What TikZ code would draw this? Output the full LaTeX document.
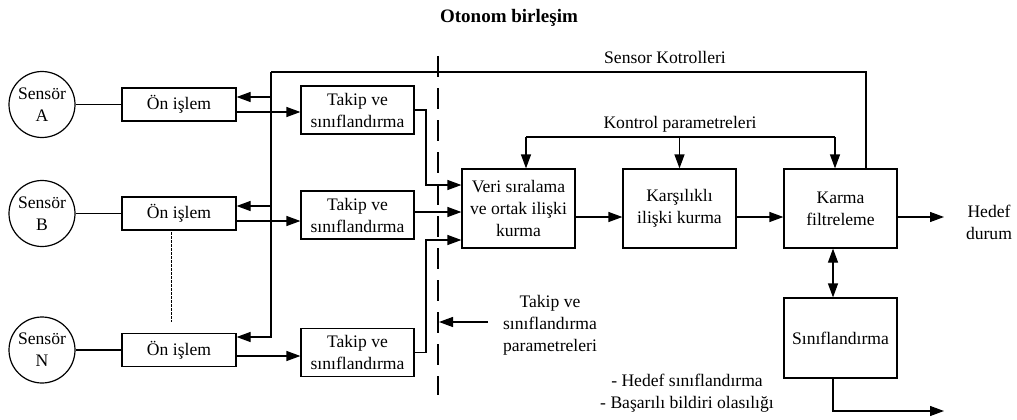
\documentclass[tikz,border=0pt]{standalone}
\usepackage{fontspec}
\setmainfont{Liberation Serif}
\usetikzlibrary{arrows.meta}
\begin{document}
\begin{tikzpicture}[x=1pt,y=-1pt,
  every node/.style={font=\fontsize{17.6}{22}\selectfont, align=center},
  ln/.style={line width=1.2pt},
  arr/.style={ln, -{Triangle[length=14pt,width=10pt]}},
  biarr/.style={ln, {Triangle[length=14pt,width=10pt]}-{Triangle[length=14pt,width=10pt]}},
  sensor/.style={draw, ln, circle, minimum size=66pt, inner sep=0pt},
  box/.style={draw, ln, inner sep=0pt, minimum width=113pt},
  onbox/.style={box, minimum width=114pt, minimum height=33pt},
  tbox/.style={box, minimum height=48pt},
  bigbox/.style={box, minimum height=79pt},
]
\useasboundingbox (0,0) rectangle (1017,420);

% title and free labels
\node[font=\fontsize{19}{23}\selectfont\bfseries] (title) at (509,18) {Otonom birleşim};
\node (sk) at (665,57) {Sensor Kotrolleri};
\node (kp) at (680,124) {Kontrol parametreleri};
\node (tp) at (550,325) {Takip ve\\sınıflandırma\\parametreleri};
\node (hedef) at (989,222) {Hedef\\durum};
\node (note) at (687,393) {- Hedef sınıflandırma\\- Başarılı bildiri olasılığı};

% sensors and preprocessing
\node[sensor] (sA) at (42,104.5) {Sensör\\A};
\node[sensor] (sB) at (42,213.5) {Sensör\\B};
\node[sensor] (sN) at (42,350) {Sensör\\N};
\node[onbox] (oA) at (179,104.5) {Ön işlem};
\node[onbox] (oB) at (179,213.5) {Ön işlem};
\node[onbox] (oN) at (179,350) {Ön işlem};

% tracking boxes
\node[tbox] (tA) at (357.5,110) {Takip ve\\sınıflandırma};
\node[tbox] (tB) at (357.5,215) {Takip ve\\sınıflandırma};
\node[tbox] (tN) at (357.5,352.5) {Takip ve\\sınıflandırma};

% fusion chain
\node[bigbox] (veri) at (518.5,208.5) {Veri sıralama\\ve ortak ilişki\\kurma};
\node[bigbox] (kars) at (679.5,208.5) {Karşılıklı\\ilişki kurma};
\node[bigbox] (karma) at (840.5,208.5) {Karma\\filtreleme};
\node[box, minimum height=80pt] (sinif) at (840.5,338) {Sınıflandırma};

% sensor to preprocessing
\draw[ln] (sA) -- (oA);
\draw[ln] (sB) -- (oB);
\draw[ln] (sN) -- (oN);
\coordinate (dotT) at (171,232);
\coordinate (dotB) at (171,322);
\draw[line width=0.8pt, dash pattern=on 2.5pt off 1.5pt] (dotT) -- (dotB);

% sensor control bus
\coordinate (busTop) at (271,72);
\coordinate (oAin) at ([yshift=7.5pt]oA.east);
\coordinate (oBin) at ([yshift=7.5pt]oB.east);
\coordinate (oNin) at ([yshift=13pt]oN.east);
\draw[ln] (busTop) -| ([xshift=25.5pt]karma.north);
\draw[arr] (busTop) -- (oNin -| busTop) -- (oNin);
\draw[arr] (oAin -| busTop) -- (oAin);
\draw[arr] (oBin -| busTop) -- (oBin);

% preprocessing to tracking
\coordinate (oAout) at ([yshift=-7.5pt]oA.east);
\coordinate (oBout) at ([yshift=-7.5pt]oB.east);
\coordinate (oNout) at ([yshift=-6pt]oN.east);
\draw[arr] (oAout) -- (oAout -| tA.west);
\draw[arr] (oBout) -- (oBout -| tB.west);
\draw[arr] (oNout) -- (oNout -| tN.west);

% tracking to data association
\coordinate (jx) at (426,0);
\coordinate (vA) at ([yshift=23.5pt]veri.west);
\coordinate (vB) at ([yshift=-3.5pt]veri.west);
\coordinate (vN) at ([yshift=-31.5pt]veri.west);
\draw[arr] (tA.east) -- (tA.east -| jx) -- (jx |- vA) -- (vA);
\draw[arr] (vB -| tB.east) -- (vB);
\draw[arr] (tN.east) -- (tN.east -| jx) -- (jx |- vN) -- (vN);

% boundary line and parameter input
\coordinate (dT) at (438,56);
\coordinate (dB) at (438,395);
\draw[ln, dash pattern=on 21pt off 11pt] (dT) -- (dB);
\coordinate (pS) at (488,322);
\draw[arr] (pS) -- ([xshift=1pt]dT |- pS);

% main chain
\coordinate (m1) at ([yshift=-8.5pt]veri.east);
\coordinate (m2) at ([yshift=-8.5pt]kars.east);
\coordinate (m3) at ([yshift=-8.5pt]karma.east);
\coordinate (hEnd) at (944,217);
\draw[arr] (m1) -- (m1 -| kars.west);
\draw[arr] (m2) -- (m2 -| karma.west);
\draw[arr] (m3) -- (hEnd |- m3);

% control parameters
\coordinate (kL) at (526,137);
\coordinate (kR) at (835,137);
\draw[ln] (kL) -- (kR);
\draw[arr] (kL) -- (kL |- veri.north);
\draw[arr] (kars.north |- kL) -- (kars.north);
\draw[arr] (kR) -- (kR |- karma.north);

% classification
\draw[biarr] ([xshift=-7.5pt]karma.south) -- ([xshift=-7.5pt]sinif.north);
\coordinate (sOut) at (944,411);
\draw[arr] ([xshift=-7.5pt]sinif.south) |- (sOut);
\end{tikzpicture}
\end{document}
